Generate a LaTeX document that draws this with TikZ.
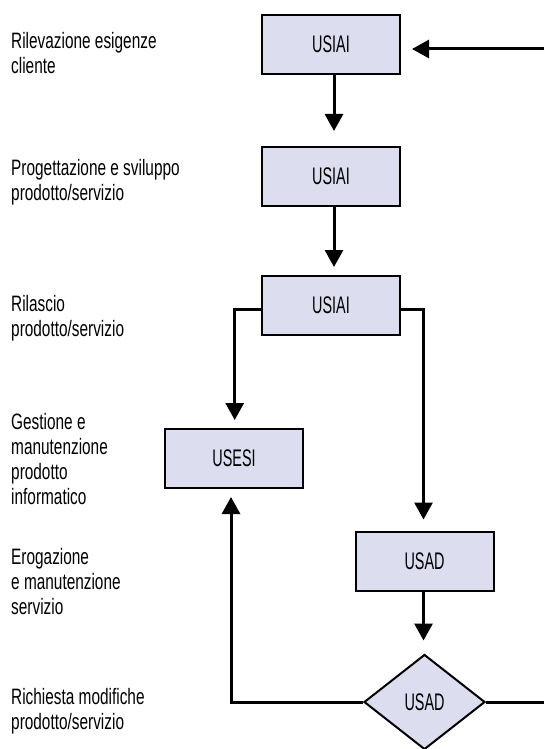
\documentclass[tikz,border=0pt]{standalone}
\usepackage{fontspec}
\setmainfont[FakeStretch=0.69]{Liberation Sans}
\newfontfamily\boxfont[FakeStretch=0.6]{Liberation Sans}
\usetikzlibrary{arrows.meta,shapes.geometric}
\definecolor{boxfill}{RGB}{220,221,238}
\begin{document}
\begin{tikzpicture}[x=1pt,y=-1pt,
  lbl/.style={anchor=north west,inner sep=0pt,align=left,font=\fontsize{22.3}{25}\selectfont},
  proc/.style={draw=black,line width=2pt,fill=boxfill,minimum width=138pt,minimum height=59pt,inner sep=0pt,font=\boxfont\fontsize{24}{26}\selectfont},
  dec/.style={draw=black,line width=2pt,fill=boxfill,shape=diamond,minimum width=121pt,minimum height=95pt,inner sep=0pt,font=\boxfont\fontsize{24}{26}\selectfont},
  arr/.style={line width=3pt,-{Triangle[length=17pt,width=18pt]}},
  ln/.style={line width=3pt}]
\useasboundingbox (0,0) rectangle (544,749);
% labels
\node[lbl] (l1) at (11,32.5) {Rilevazione esigenze\\cliente};
\node[lbl] (l2) at (11,159) {Progettazione e sviluppo\\prodotto/servizio};
\node[lbl] (l3) at (11,295) {Rilascio\\prodotto/servizio};
\node[lbl] (l4) at (11,413) {Gestione e\\manutenzione\\prodotto\\informatico};
\node[lbl] (l5) at (11,548) {Erogazione\\e manutenzione\\servizio};
\node[lbl] (l6) at (11,688) {Richiesta modifiche\\prodotto/servizio};
% boxes
\node[proc] (b1) at (331,44.5) {USIAI};
\node[proc] (b2) at (331,176.5) {USIAI};
\node[proc] (b3) at (331,305.5) {USIAI};
\node[proc] (esi) at (234,458.5) {USESI};
\node[proc] (usad) at (424.5,561) {USAD};
\node[dec] (dia) at (424.5,702) {USAD};
\coordinate (inR) at (544,49);
\coordinate (outR) at (544,702);
% connectors
\draw[arr,shorten >=11pt] (inR) -- (inR -| b1.east);
\draw[arr,shorten >=15pt] ([xshift=3pt]b1.south) -- ([xshift=3pt]b2.north);
\draw[arr,shorten >=8pt] ([xshift=3pt]b2.south) -- ([xshift=3pt]b3.north);
\draw[arr,shorten >=8pt] ([yshift=-3.8pt]b3.west) -| ([xshift=0.7pt]esi.north);
\draw[arr,shorten >=11pt] ([yshift=-3.8pt]b3.east) -| ([xshift=-1pt]usad.north);
\draw[arr,shorten >=13pt] ([xshift=-1pt]usad.south) -- ([xshift=-1pt]dia.north);
\draw[arr,shorten >=8pt] (dia.west) -| ([xshift=-3pt]esi.south);
\draw[ln] (dia.east) -- (outR);
\end{tikzpicture}
\end{document}
